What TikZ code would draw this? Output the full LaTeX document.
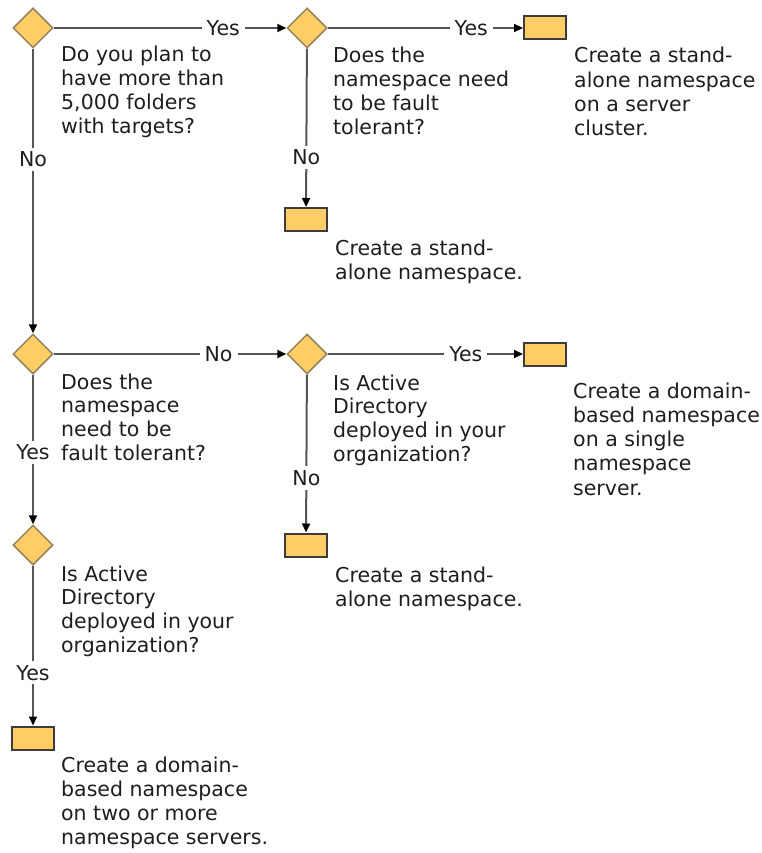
\documentclass[tikz,border=0pt]{standalone}
\usepackage{fontspec}
\setmainfont{DejaVu Sans}
\usetikzlibrary{shapes.geometric,arrows.meta}

\definecolor{boxfill}{RGB}{255,204,102}
\definecolor{diamondedge}{RGB}{150,130,90}
\definecolor{boxedge}{RGB}{60,60,60}
\definecolor{linegray}{RGB}{85,85,85}
\definecolor{textdark}{RGB}{30,30,30}

% stacked lines whose baseline is the first line's baseline
\newcommand\stacklines[1]{\begin{tabular}[t]{@{}l@{}}#1\end{tabular}}

\begin{document}
\begin{tikzpicture}[x=1pt,y=-1pt,
  decision/.style={diamond, aspect=1, draw=diamondedge, fill=boxfill,
    line width=1.5pt, minimum width=40pt, minimum height=40pt, inner sep=0pt},
  outcome/.style={rectangle, draw=boxedge, fill=boxfill, line width=2pt,
    minimum width=42pt, minimum height=23pt, inner sep=0pt},
  flow/.style={draw=linegray, line width=2pt},
  arrowflow/.style={flow, -{Triangle[length=9pt,width=8pt,color=black]}},
  choice/.style={fill=white, inner xsep=5pt, inner ysep=4pt, text=textdark,
    font=\fontsize{20.5}{23}\selectfont},
  question/.style={anchor=base west, inner sep=0pt, text=textdark,
    font=\fontsize{20.5}{23.7}\selectfont},
  answer/.style={anchor=base west, inner sep=0pt, text=textdark,
    font=\fontsize{20.5}{24.3}\selectfont},
]
\useasboundingbox (0,0) rectangle (762,853);

% decisions
\node[decision] (d1) at (33,28) {};
\node[decision] (d2) at (307,28) {};
\node[decision] (d3) at (33,354) {};
\node[decision] (d4) at (307,354) {};
\node[decision] (d5) at (33,545) {};

% outcomes
\node[outcome] (r1) at (545,28) {};
\node[outcome] (r2) at (306,219.5) {};
\node[outcome] (r4) at (545,354) {};
\node[outcome] (r5) at (33,738) {};
\node[outcome] (r6) at (306,545) {};

% question texts
\node[question] (q1) at (61,62) {\stacklines{Do you plan to\\have more than\\5,000 folders\\with targets?}};
\node[question] (q2) at (333,63) {\stacklines{Does the\\namespace need\\to be fault\\tolerant?}};
\node[question] (q3) at (61,389) {\stacklines{Does the\\namespace\\need to be\\fault tolerant?}};
\node[question] (q4) at (333,390) {\stacklines{Is Active\\Directory\\deployed in your\\organization?}};
\node[question] (q5) at (61,581) {\stacklines{Is Active\\Directory\\deployed in your\\organization?}};

% outcome texts
\node[answer] (a1) at (574,63) {\stacklines{Create a stand-\\alone namespace\\on a server\\cluster.}};
\node[answer] (a2) at (335,255) {\stacklines{Create a stand-\\alone namespace.}};
\node[answer] (a4) at (573,398) {\stacklines{Create a domain-\\based namespace\\on a single\\namespace\\server.}};
\node[answer] (a5) at (61,772) {\stacklines{Create a domain-\\based namespace\\on two or more\\namespace servers.}};
\node[answer] (a6) at (335,582) {\stacklines{Create a stand-\\alone namespace.}};

% connectors
\draw[arrowflow] (d1) -- node[choice, pos=0.729] (l1) {Yes} (d2);
\draw[arrowflow] (d2) -- node[choice, pos=0.735] (l2) {Yes} (r1);
\draw[arrowflow] (d2) -- node[choice, pos=0.6875] (l3) {No} (r2);
\draw[arrowflow] (d1) -- node[choice, pos=0.388] (l4) {No} (d3);
\draw[arrowflow] (d3) -- node[choice, pos=0.709] (l5) {No} (d4);
\draw[arrowflow] (d4) -- node[choice, pos=0.707] (l6) {Yes} (r4);
\draw[arrowflow] (d4) -- node[choice, pos=0.654] (l7) {No} (r6);
\draw[arrowflow] (d3) -- node[choice, pos=0.52] (l8) {Yes} (d5);
\draw[arrowflow] (d5) -- node[choice, pos=0.67] (l9) {Yes} (r5);
\end{tikzpicture}
\end{document}
